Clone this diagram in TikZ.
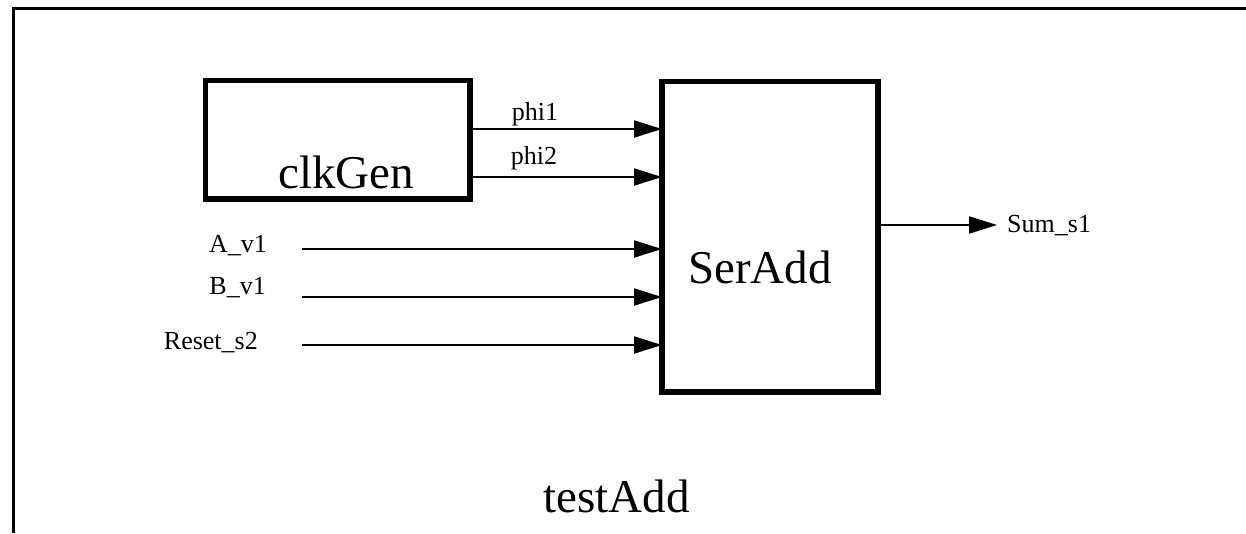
\documentclass[tikz,border=0pt]{standalone}
\usepackage{fontspec}
\setmainfont{Liberation Serif}
\usetikzlibrary{arrows.meta}
\begin{document}
\begin{tikzpicture}[x=1pt,y=-1pt,
 box/.style={draw, line width=5.5pt, inner sep=0pt, outer sep=0pt, rectangle},
 sig/.style={line width=2pt, -{Triangle[length=28pt,width=17pt]}},
 small/.style={font=\fontsize{26}{31}\selectfont, inner sep=0pt},
 big/.style={font=\fontsize{47}{56}\selectfont, inner sep=0pt}]
\useasboundingbox (0,0) rectangle (1246,533);
\coordinate (fbot) at (13.5,533);
\coordinate (fcorner) at (13.5,8.5);
\coordinate (fright) at (1246,8.5);
\draw[line width=3.5pt] (fbot) -- (fcorner) -- (fright);
% blocks
\node[box, minimum width=264.5pt, minimum height=118.5pt] (clk) at (337.75,139.75) {};
\node[box, minimum width=216pt, minimum height=310.5pt] (ser) at (770,236.75) {};
\node[big, anchor=base] (clktext) at (346,188) {clkGen};
\node[big, anchor=base] (sertext) at (760,283) {SerAdd};
\node[big, anchor=base] (title) at (616.5,512) {testAdd};
% clock signals
\coordinate (p1) at (0,129);
\coordinate (p2) at (0,177);
\draw[sig] (clk.east |- p1) -- (ser.west |- p1);
\draw[sig] (clk.east |- p2) -- (ser.west |- p2);
\node[small, anchor=base] (phi1) at (535,120) {phi1};
\node[small, anchor=base] (phi2) at (534,164) {phi2};
% inputs
\coordinate (a) at (302,249);
\coordinate (b) at (302,297);
\coordinate (r) at (302,345);
\draw[sig] (a) -- (ser.west |- a);
\draw[sig] (b) -- (ser.west |- b);
\draw[sig] (r) -- (ser.west |- r);
\node[small, anchor=base east] (alab) at (267,252) {A\_v1};
\node[small, anchor=base east] (blab) at (266,294) {B\_v1};
\node[small, anchor=base east] (rlab) at (258,349) {Reset\_s2};
% output
\coordinate (so) at (997,225);
\draw[sig] (ser.east |- so) -- (so);
\node[small, anchor=base west] (slab) at (1007,232) {Sum\_s1};
\end{tikzpicture}
\end{document}
